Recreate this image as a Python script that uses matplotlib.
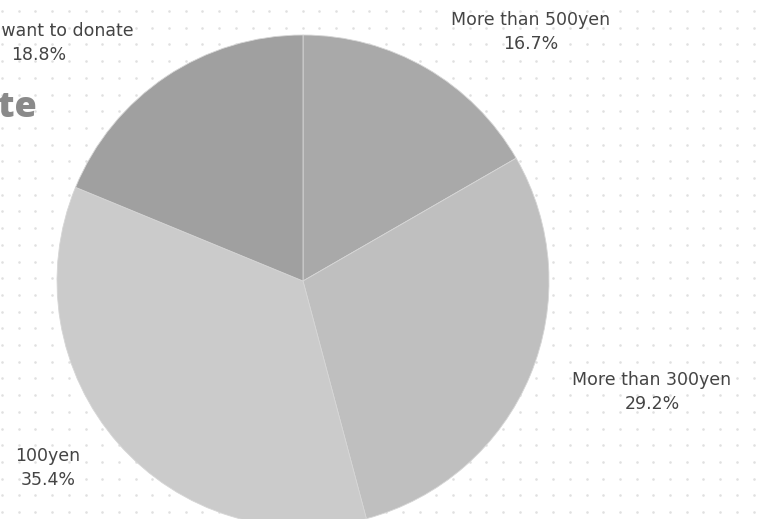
import matplotlib
matplotlib.use("Agg")
import matplotlib.pyplot as plt
import numpy as np

# slice data, clockwise from 12 o'clock
labels = ["More than 500yen", "More than 300yen", "100yen", "Didn't want to donate"]
shares = [16.7, 29.2, 35.4, 18.8]
colors = ["#a9a9a9", "#bfbfbf", "#cbcbcb", "#a0a0a0"]

W, H = 761, 519
fig = plt.figure(figsize=(W / 100, H / 100), dpi=100)
ax = fig.add_axes([0, 0, 1, 1])
fig.patch.set_facecolor("white")

# dotted background
gx, gy = np.meshgrid(np.arange(2, W, 16.7), np.arange(7, H, 16.7))
ax.scatter(gx.ravel(), gy.ravel(), s=3.5, color="#e0e0e0", zorder=0, linewidths=0)

# pixel coords, y measured from top
cx, cy, r = 303, 281, 246
ax.pie(shares, colors=colors, startangle=90, counterclock=False,
       center=(cx, H - cy), radius=r, frame=True,
       wedgeprops=dict(edgecolor="#d6d6d6", linewidth=0.6, zorder=2))

font = "DejaVu Sans"
txt = "#444444"

def lab(x, y, name, pct):
    ax.text(x, H - y, name, ha="center", va="center", fontsize=12.5,
            color=txt, family=font, zorder=5)
    ax.text(x, H - y - 24, pct, ha="center", va="center", fontsize=12.5,
            color=txt, family=font, zorder=5)

lab(531, 20, labels[0], "%.1f%%" % shares[0])
lab(652, 380, labels[1], "%.1f%%" % shares[1])
lab(48, 456, labels[2], "%.1f%%" % shares[2])
lab(39, 31, labels[3], "%.1f%%" % shares[3])

# title fragment at the left edge
ax.text(37, H - 117, "Donate", ha="right", va="baseline", fontsize=26,
        fontweight="heavy", color="#8a8a8a", family="Open Sans", zorder=5)

ax.set_xlim(0, W)
ax.set_ylim(0, H)
ax.set_aspect("equal")
ax.axis("off")

fig.savefig("out.png", dpi=100, facecolor="white")
